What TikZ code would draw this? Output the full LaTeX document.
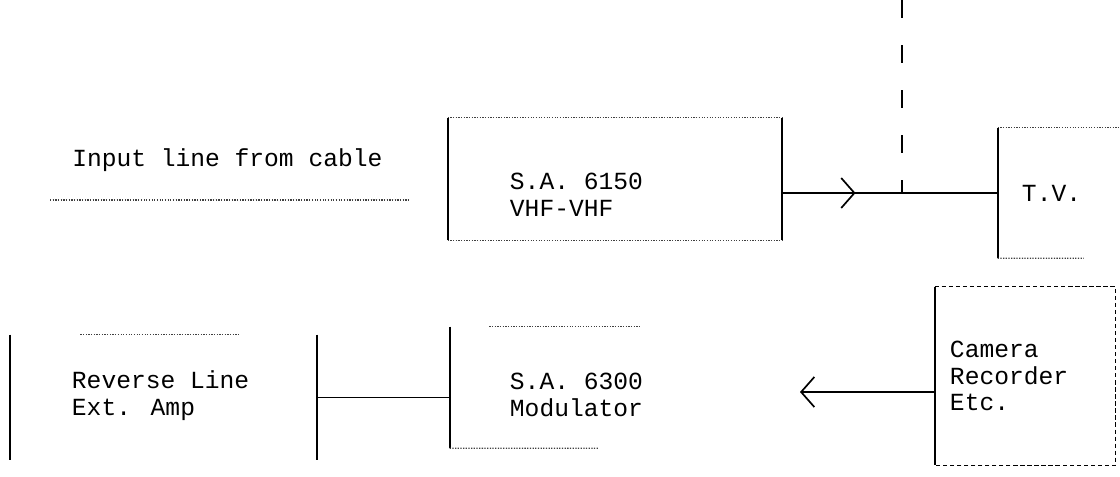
\documentclass[tikz,border=0pt]{standalone}
\usepackage{fontspec}
\newfontfamily\typefont{Liberation Mono}
\usetikzlibrary{calc}
\usetikzlibrary{decorations.markings}
\usetikzlibrary{arrows.meta}

\begin{document}
\begin{tikzpicture}[x=0.025cm, y=-0.025cm,
    lbl/.style={inner sep=0pt, font=\typefont\fontsize{17.5}{19}\selectfont},
    txt/.style={lbl, text width=#1, align=flush left, anchor=west},
    box/.style={inner sep=0pt, minimum width=#1},
    side/.style={line width=1.2pt},
    faint/.style={line width=0.9pt, densely dotted, black!75},
    conn/.style={line width=1pt},
    barb/.tip={Straight Barb[length=3.3mm, width=7.5mm, line width=1.2pt]}]
  \useasboundingbox (0,0) rectangle (1120,476);

  % upper row
  \node[lbl, anchor=west] (cablelbl) at (72,160) {Input line from cable};
  \coordinate (cablein) at (50,200);
  \coordinate (cableout) at (410,200);
  \node[box=8.35cm, minimum height=3.05cm] (sa6150) at (615,179) {};
  \node[txt=4cm] (t6150) at ([xshift=1.55cm, yshift=-0.4cm]sa6150.west) {S.A. 6150\\VHF-VHF};
  \node[box=3.05cm, minimum height=3.25cm] (tv) at (1059,193) {};
  \node[txt=1.8cm] (ttv) at ([xshift=0.6cm]tv.west) {T.V.};
  \coordinate (feed) at (902,0);
  \coordinate (tee) at (feed |- tv.west);

  % lower row
  \node[box=7.675cm, minimum height=3.125cm] (rev) at (163.5,397.5) {};
  \node[txt=4.6cm] (trev) at ([xshift=1.55cm, yshift=0.05cm]rev.west) {Reverse Line\\Ext. Amp};
  \node[box=8.25cm, minimum height=3.025cm] (sa6300) at (615,387.5) {};
  \node[txt=4cm] (t6300) at ([xshift=1.5cm, yshift=-0.19cm]sa6300.west) {S.A. 6300\\Modulator};
  \node[box=4.5cm, minimum height=4.45cm] (camera) at (1025,376) {};
  \node[txt=3.3cm] (tcamera) at ([xshift=0.375cm]camera.west) {Camera\\Recorder\\Etc.};
  \coordinate (modtip) at (800,392);

  % box sides
  \foreach \b in {sa6150, tv, rev, sa6300, camera}
    \draw[side] (\b.north west) -- (\b.south west);
  \draw[side] (sa6150.north east) -- (sa6150.south east);
  \draw[side] (rev.north east) -- (rev.south east);
  \draw[faint] (sa6150.north west) -- (sa6150.north east);
  \draw[faint] (sa6150.south west) -- (sa6150.south east);
  \draw[faint] (tv.north west) -- (tv.north east);
  \draw[faint] (tv.south west) -- ($(tv.south west)!0.7!(tv.south east)$);
  \draw[faint] ($(rev.north west)!0.23!(rev.north east)$) -- ($(rev.north west)!0.75!(rev.north east)$);
  \draw[faint] ($(sa6300.north west)!0.12!(sa6300.north east)$) -- ($(sa6300.north west)!0.58!(sa6300.north east)$);
  \draw[faint] (sa6300.south west) -- ($(sa6300.south west)!0.45!(sa6300.south east)$);
  \draw[line width=1pt, densely dashed] (camera.north west) -- (camera.north east) -- (camera.south east) -- (camera.south west);

  % connectors
  \draw[faint] (cablein) -- (cableout);
  \draw[conn, postaction={decorate}, decoration={markings,
      mark=at position 0.34 with {\arrow{barb}}}] (tv.west -| sa6150.east) -- (tv.west);
  \draw[conn, dash pattern=on 13pt off 19pt] (feed) -- (tee);
  \draw[conn] (rev.east) -- (rev.east -| sa6300.west);
  \draw[conn, -barb] (modtip -| camera.west) -- (modtip);
\end{tikzpicture}
\end{document}
